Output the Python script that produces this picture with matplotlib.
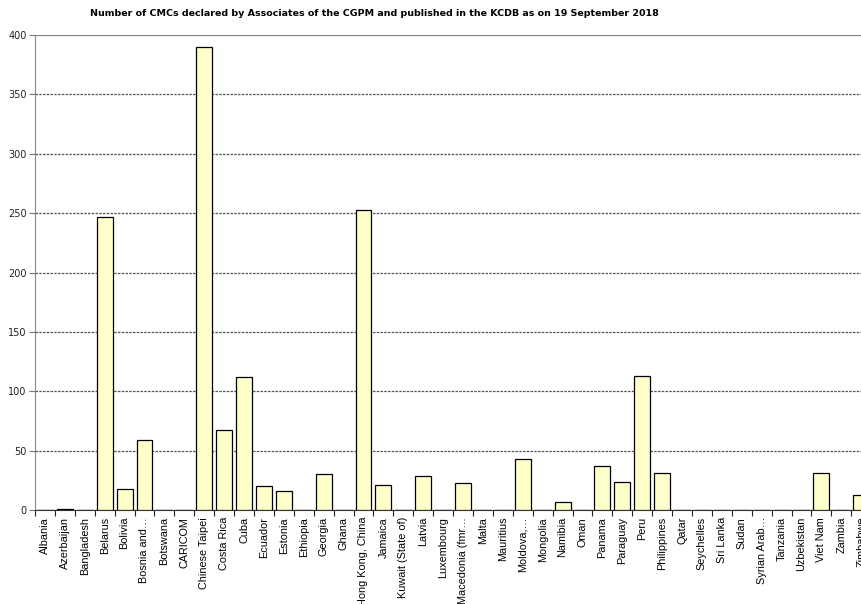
import numpy as np
import matplotlib
matplotlib.use('Agg')
import matplotlib.pyplot as plt

############# Daten
laender = ['Albania', 'Azerbaijan', 'Bangladesh', 'Belarus', 'Bolivia',
           'Bosnia and…', 'Botswana', 'CARICOM', 'Chinese Taipei', 'Costa Rica',
           'Cuba', 'Ecuador', 'Estonia', 'Ethiopia', 'Georgia', 'Ghana',
           'Hong Kong, China', 'Jamaica', 'Kuwait (State of)', 'Latvia',
           'Luxembourg', 'Macedonia (fmr…', 'Malta', 'Mauritius', 'Moldova,…',
           'Mongolia', 'Namibia', 'Oman', 'Panama', 'Paraguay', 'Peru',
           'Philippines', 'Qatar', 'Seychelles', 'Sri Lanka', 'Sudan',
           'Syrian Arab…', 'Tanzania', 'Uzbekistan', 'Viet Nam', 'Zambia',
           'Zimbabwe']
cmcs = [0, 1, 0, 247, 18,
        59, 0, 0, 390, 67,
        112, 20, 16, 0, 30, 0,
        253, 21, 0, 29,
        0, 23, 0, 0, 43,
        0, 7, 0, 37, 24, 113,
        31, 0, 0, 0, 0,
        0, 0, 0, 31, 0,
        13]
y_ticks = [0, 50, 100, 150, 200, 250, 300, 350, 400]
titel = 'Number of CMCs declared by Associates of the CGPM and published in the KCDB as on 19 September 2018'

fig = plt.figure(figsize=(8.62, 6.04), dpi=100)
# Achse ragt rechts etwas aus dem Bild (wie im Original abgeschnitten)
ax = fig.add_axes([0.0406, 0.1556, 0.970, 0.7864])

x = np.arange(len(laender))
ax.bar(x, cmcs, width=0.8, color='#ffffcc', edgecolor='black',
       linewidth=0.9, zorder=3)

ax.set_xlim(-0.5, len(laender) - 0.5)
ax.set_ylim(0, 400)

# gestrichelte Gitterlinien
ax.set_yticks(y_ticks)
ax.yaxis.grid(True, linestyle=(0, (2, 1)), color='#555555', linewidth=0.9, zorder=0)
ax.set_yticklabels([str(v) for v in y_ticks], fontsize=7, family='DejaVu Sans',
                   color='#222222')
ax.tick_params(axis='y', length=4, width=0.8, color='#777777', pad=2)

# Kategorie-Beschriftungen mittig, Striche an den Grenzen
ax.set_xticks(x)
ax.set_xticklabels(laender, rotation=90, fontsize=7.8, family='Liberation Sans')
ax.tick_params(axis='x', which='major', length=0, pad=5)
ax.set_xticks(np.arange(len(laender) + 1) - 0.5, minor=True)
ax.tick_params(axis='x', which='minor', length=4, width=0.8, color='#222222')

ax.spines['left'].set_color('#888888')
ax.spines['top'].set_color('#888888')
ax.spines['bottom'].set_color('#333333')
ax.spines['right'].set_visible(False)

fig.text(0.434, 0.978, titel, ha='center', va='center', fontsize=6.8,
         fontweight='bold', family='DejaVu Sans')

fig.savefig('out.png', dpi=100)
